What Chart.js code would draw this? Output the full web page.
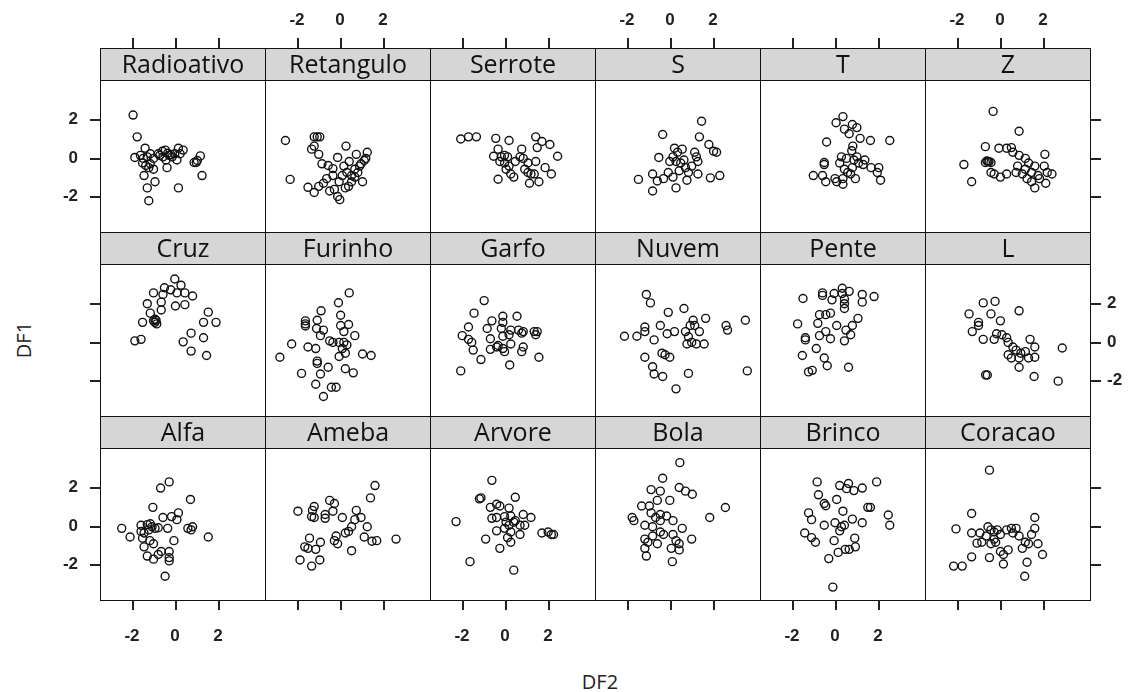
<!DOCTYPE html>
<html>
<head>
<meta charset="utf-8">
<script src="https://cdn.jsdelivr.net/npm/chart.js@4.4.1/dist/chart.umd.min.js"></script>
<style>
  html, body { margin: 0; padding: 0; background: #fff; }
  #fig { position: relative; width: 1142px; height: 692px; overflow: hidden; font-family: "Open Sans", "Noto Sans", sans-serif; }
  .panel { position: absolute; }
  .frame { position: absolute; border: 1px solid #111; box-sizing: border-box; pointer-events: none; }
  .strip { position: absolute; background: #d6d6d6; border: 1px solid #111; box-sizing: border-box;
           text-align: center; font-size: 25px; color: #111; line-height: 29px; white-space: nowrap; }
  .tick { position: absolute; background: #222; }
  .lab { position: absolute; font-family: "Liberation Sans", Arial, sans-serif; font-size: 17px; font-weight: bold; color: #222; line-height: 18px; }
  .title { position: absolute; font-size: 20px; color: #222; line-height: 24px; }
</style>
</head>
<body>
<div id="fig"></div>
<script>
// panel order: top row first, left to right
const panelNames = ['Radioativo', 'Retangulo', 'Serrote', 'S', 'T', 'Z',
                    'Cruz', 'Furinho', 'Garfo', 'Nuvem', 'Pente', 'L',
                    'Alfa', 'Ameba', 'Arvore', 'Bola', 'Brinco', 'Coracao'];
const tickValues = [-2, 0, 2];
const xRange = [-3.23, 3.95];
const yRange = [-3.57, 3.76];

// [DF2, DF1] pairs for each panel
const radioativo = [[-1.94,2.22],[-1.75,1.09],[-1.38,0.50],[-1.86,0.02],[-1.60,0.13],[-1.46,-0.03],[-1.28,0.05],[-1.50,-0.27],[-1.35,-0.40],[-1.14,-0.31],[-1.21,-0.51],[-0.99,-0.59],[-1.43,-0.92],[-0.92,-1.24],[-1.28,-1.56],[-1.21,-2.23],[-0.77,0.21],[-0.58,0.34],[-0.44,0.40],[-0.33,0.24],[-0.26,0.13],[-0.19,0.18],[-0.55,0.05],[-0.41,-0.11],[-0.36,-0.51],[0.00,0.21],[0.17,0.50],[0.39,0.40],[0.25,0.21],[0.10,-0.11],[0.17,-1.56],[1.19,0.10],[1.05,-0.14],[0.90,-0.24],[1.00,-0.24],[1.27,-0.92],[-0.99,-0.03],[-1.14,0.21],[-0.70,0.13],[-0.12,0.05]];
const retangulo = [[-2.53,0.90],[-2.31,-1.12],[-1.19,1.09],[-1.05,1.09],[-0.93,1.09],[-1.31,0.45],[-1.19,0.61],[-0.98,0.18],[-0.83,-0.31],[-0.54,-0.40],[-0.10,0.02],[-0.32,-0.56],[0.29,0.61],[0.77,0.18],[1.28,0.29],[0.44,-0.19],[0.19,-0.43],[0.70,-0.59],[0.99,-0.31],[1.14,-0.14],[1.06,-1.24],[0.55,-0.92],[0.33,-0.76],[0.12,-0.92],[-0.03,-1.24],[-0.32,-0.92],[-0.61,-1.08],[-0.76,-1.32],[-0.98,-1.48],[-1.48,-1.53],[-1.19,-1.80],[-0.47,-1.72],[-0.25,-1.64],[-0.10,-2.01],[0.00,-2.17],[0.26,-1.56],[0.55,-1.24],[0.70,-1.00],[0.84,-0.76],[0.41,-1.48],[1.21,-0.03],[0.92,-0.43]];
const serrote = [[-2.05,0.98],[-1.69,1.09],[-1.32,1.09],[-0.42,1.01],[0.20,0.90],[-0.52,0.08],[-0.31,0.45],[-0.16,0.05],[-0.01,0.13],[0.13,0.05],[-0.23,-0.19],[-0.01,-0.27],[0.20,-0.43],[0.06,-0.59],[0.28,-0.84],[0.42,-1.00],[-0.31,-1.11],[0.79,0.45],[0.71,0.05],[0.86,-0.03],[1.08,-0.27],[1.08,-0.76],[1.22,-0.84],[1.15,-1.32],[1.59,-1.24],[1.44,-0.19],[1.44,1.09],[1.51,0.53],[1.73,0.85],[2.10,0.69],[2.46,0.08],[1.88,-0.51],[2.17,-0.84],[1.37,-0.84],[0.49,-0.19],[0.93,-0.59]];
const sShape = [[1.48,1.90],[-0.33,1.21],[1.38,1.09],[1.82,0.69],[2.04,0.34],[2.18,0.29],[0.22,0.50],[0.36,0.29],[0.58,0.45],[0.15,0.05],[0.00,-0.19],[0.29,-0.19],[0.51,-0.27],[0.66,-0.11],[1.16,0.29],[1.24,0.05],[1.31,-0.19],[1.02,-0.43],[0.73,-0.51],[0.87,-0.76],[1.31,-0.84],[-0.51,0.02],[-0.80,-0.84],[-1.46,-1.12],[-0.58,-1.20],[-0.29,-1.08],[0.15,-1.00],[0.29,-1.56],[-0.80,-1.72],[0.80,-1.16],[1.89,-1.04],[2.33,-0.92],[-0.07,-0.76],[0.44,-0.67]];
const tShape = [[0.38,2.14],[0.06,1.82],[0.45,1.49],[0.82,1.73],[1.03,1.57],[0.67,1.25],[1.18,1.01],[1.66,0.90],[2.56,0.90],[-0.38,0.82],[0.84,0.61],[0.79,0.37],[0.31,0.05],[0.55,-0.03],[0.23,-0.27],[0.89,-0.11],[1.03,0.05],[1.11,-0.27],[1.40,-0.11],[1.32,-0.35],[0.82,-0.51],[0.60,-0.76],[0.38,-1.08],[0.01,-1.08],[-0.49,-0.24],[-0.49,-0.35],[-1.00,-0.92],[-0.57,-0.92],[-0.42,-1.24],[0.09,-1.24],[0.38,-1.37],[0.96,-1.08],[1.69,-0.51],[2.05,-0.51],[2.13,-1.16],[1.98,-0.76],[0.74,-0.84],[0.45,-0.59]];
const zShape = [[-0.31,2.41],[0.90,1.38],[-0.67,0.58],[-0.04,0.50],[0.32,0.50],[0.54,0.53],[0.61,0.29],[0.90,0.13],[1.19,-0.03],[1.34,-0.27],[1.63,-0.43],[2.10,0.18],[2.07,-0.43],[2.21,-0.76],[2.43,-0.84],[2.14,-1.32],[1.63,-1.56],[1.48,-1.24],[1.27,-1.08],[1.05,-0.84],[0.76,-0.76],[0.32,-0.84],[0.03,-1.00],[-0.26,-0.84],[-0.41,-0.76],[-0.55,-0.19],[-0.41,-0.24],[-0.67,-0.24],[-0.60,-0.16],[-0.50,-0.20],[-1.67,-0.35],[-1.31,-1.24],[1.78,-0.92],[1.19,-0.59],[0.83,-0.43],[1.48,-0.76],[1.85,-1.08]];
const cruz = [[0.00,3.26],[0.29,2.94],[-0.48,2.81],[-0.19,2.70],[0.10,2.54],[0.47,2.54],[0.83,2.38],[-0.99,2.54],[-0.55,2.46],[-1.28,1.98],[-0.63,2.06],[0.03,1.86],[0.47,1.93],[-1.14,1.49],[-0.63,1.65],[-1.50,1.01],[-0.92,1.17],[-0.92,1.01],[-0.84,0.93],[-0.99,1.09],[-0.87,1.12],[1.56,1.54],[1.34,1.01],[1.92,1.01],[-1.86,0.05],[-1.57,0.13],[0.76,0.45],[0.39,0.00],[1.34,0.21],[0.76,-0.48],[1.48,-0.71]];
const furinho = [[0.44,2.54],[-0.06,2.03],[-0.87,1.61],[0.04,1.38],[-1.05,1.12],[-1.60,1.09],[-1.60,0.93],[-1.60,0.82],[-1.08,0.69],[-0.76,0.61],[-0.90,0.32],[-0.47,0.05],[-0.32,-0.03],[-0.03,-0.03],[0.19,-0.03],[0.33,-0.16],[0.12,-0.35],[0.26,-0.59],[-0.03,-0.76],[0.41,0.90],[0.04,0.85],[0.70,0.32],[-2.24,-0.11],[-2.79,-0.80],[-1.48,-0.27],[-1.12,-0.35],[-1.05,-1.00],[-1.05,-1.12],[-0.54,-1.32],[-0.90,-1.67],[-1.78,-1.64],[-1.12,-2.20],[-0.39,-2.36],[-0.17,-2.36],[-0.76,-2.84],[0.26,-1.40],[0.63,-1.61],[1.06,-0.63],[1.46,-0.71],[0.19,0.53]];
const garfo = [[-0.96,2.14],[-1.43,1.49],[-0.60,1.09],[-0.09,1.33],[0.57,1.33],[-0.09,1.01],[-1.69,0.77],[-0.82,0.69],[-0.16,0.69],[0.28,0.61],[0.64,0.61],[0.86,0.53],[-1.98,0.32],[-1.69,0.13],[-1.54,-0.03],[-0.67,0.16],[-0.09,0.29],[0.20,0.37],[0.79,0.45],[1.37,0.53],[1.51,0.53],[1.44,0.37],[-1.47,-0.43],[-1.11,-0.92],[-0.67,-0.39],[-0.31,-0.19],[-0.09,-0.35],[-0.01,-0.51],[-0.38,-0.27],[0.28,-0.11],[0.86,-0.27],[0.79,-0.51],[1.59,-0.80],[0.23,-1.20],[-2.05,-1.51]];
const nuvem = [[-1.09,2.46],[-0.90,2.02],[-0.07,1.53],[0.66,1.73],[1.67,1.22],[1.09,1.12],[0.95,0.85],[-1.16,0.77],[-0.44,0.85],[-2.11,0.29],[-1.53,0.29],[-1.16,0.53],[-0.73,0.10],[-0.12,0.42],[0.22,0.53],[0.73,0.53],[1.38,0.53],[1.02,-0.03],[0.80,-0.11],[1.24,-0.11],[1.60,-0.11],[2.62,0.85],[2.69,0.61],[3.52,1.12],[-0.36,-0.59],[-0.22,-0.67],[0.00,-0.80],[-1.16,-0.80],[-0.80,-1.29],[-0.73,-1.67],[-0.33,-1.80],[0.87,-1.64],[0.29,-2.44],[3.61,-1.51],[0.87,0.26],[1.16,0.85]];
const pente = [[-1.48,2.25],[-0.57,2.54],[-0.57,2.41],[-0.03,2.51],[0.35,2.78],[0.35,2.51],[0.67,2.62],[0.45,2.22],[0.45,1.98],[0.45,1.73],[-0.13,2.18],[1.28,2.46],[1.28,2.06],[1.83,2.35],[-0.20,1.49],[-0.42,1.41],[-0.71,1.41],[-0.79,0.96],[-1.73,0.93],[0.09,0.85],[0.52,0.61],[0.82,0.85],[1.08,1.22],[-0.42,0.53],[-0.71,0.32],[-1.37,0.21],[-1.37,0.10],[-0.20,0.16],[0.45,0.05],[0.74,0.37],[-0.86,-0.35],[-1.51,-0.71],[-0.49,-0.84],[-0.35,-1.24],[-1.22,-1.56],[-1.05,-1.48],[0.64,-1.32]];
const lShape = [[-0.77,2.02],[-0.22,2.10],[0.90,1.61],[-1.43,1.45],[-0.41,1.45],[-0.99,1.01],[0.03,1.09],[-1.28,0.53],[-0.77,0.13],[-0.15,0.42],[0.10,0.37],[0.32,0.21],[0.39,-0.03],[0.61,-0.27],[0.76,-0.43],[0.98,-0.59],[1.19,-0.51],[1.34,-0.84],[0.90,-0.84],[0.54,-0.84],[0.39,-0.67],[1.41,0.13],[1.63,-0.27],[1.63,-0.80],[0.90,-1.32],[2.91,-0.32],[1.60,-1.80],[2.72,-2.04],[-0.66,-1.72],[-0.58,-1.72],[-0.99,0.85],[-0.26,0.13]];
const alfa = [[-0.26,2.28],[-0.66,1.96],[0.73,1.37],[-1.02,0.96],[0.17,0.67],[-0.15,0.48],[-0.55,0.43],[0.10,0.32],[-2.47,-0.13],[-2.08,-0.58],[-1.57,0.03],[-1.28,0.06],[-1.14,0.11],[-1.06,-0.05],[-0.92,-0.13],[-1.21,-0.21],[-1.43,-0.37],[-1.50,-0.64],[-1.16,-0.77],[-0.77,-0.10],[-0.33,-0.13],[0.61,-0.13],[0.83,-0.05],[0.76,-0.21],[1.56,-0.58],[-0.04,-0.77],[-0.99,-0.93],[-1.43,-1.09],[-1.28,-1.57],[-0.99,-1.73],[-0.63,-1.33],[-0.26,-1.33],[-0.26,-1.65],[-0.26,-1.82],[-0.77,-1.49],[-0.45,-2.62],[-1.57,-0.29]];
const ameba = [[1.64,2.09],[1.43,1.45],[-1.95,0.76],[-1.19,1.00],[-1.27,0.80],[-1.31,0.48],[-1.19,0.43],[-0.47,1.32],[-0.25,1.16],[-0.68,0.59],[-0.68,0.39],[-0.32,0.76],[0.12,0.43],[0.77,0.80],[0.70,0.32],[0.99,0.43],[0.55,-0.05],[0.41,-0.29],[0.26,-0.37],[1.28,-0.05],[1.14,-0.58],[1.50,-0.80],[1.72,-0.77],[2.62,-0.69],[-0.17,-0.53],[-0.10,-0.93],[0.55,-1.29],[-1.41,-0.64],[-1.63,-1.09],[-1.48,-1.17],[-1.12,-1.22],[-0.90,-0.85],[-1.85,-1.77],[-1.31,-2.09],[-0.93,-1.77],[-0.25,-0.77]];
const arvore = [[-0.60,2.36],[-1.18,1.40],[-1.11,1.45],[0.49,1.48],[-0.38,1.12],[-0.23,1.03],[0.20,0.92],[-0.67,0.96],[-2.27,0.22],[-0.60,0.39],[-0.38,0.43],[-0.01,0.48],[0.28,0.51],[0.06,0.19],[0.20,0.03],[0.42,0.19],[0.86,0.59],[1.22,0.43],[0.71,0.03],[0.93,0.03],[-0.38,-0.26],[0.28,-0.32],[0.71,-0.45],[0.13,-0.61],[0.28,-0.85],[-0.23,-1.17],[-0.89,-0.69],[1.73,-0.37],[2.02,-0.32],[2.17,-0.45],[2.27,-0.45],[0.42,-2.30],[-1.62,-1.86],[0.49,0.27],[-0.01,-0.13]];
const bola = [[0.47,3.28],[-0.33,2.47],[0.44,1.99],[0.73,1.80],[1.05,1.64],[-0.87,1.88],[-0.44,1.80],[0.00,1.32],[-1.31,1.03],[-0.95,1.03],[-0.58,1.32],[-0.87,0.67],[-0.44,0.59],[-0.66,0.43],[-0.44,0.27],[-0.15,0.51],[0.15,0.27],[-1.75,0.43],[-1.67,0.27],[-1.16,0.03],[-0.80,-0.05],[-0.44,-0.32],[-0.29,-0.45],[0.58,-0.13],[0.15,-0.45],[0.29,-0.77],[0.07,-1.17],[0.44,-1.25],[1.02,-0.69],[-0.58,-0.93],[-1.02,-0.85],[-1.16,-0.69],[-1.16,-1.17],[-1.09,-1.57],[0.12,-1.86],[1.86,0.43],[2.59,0.95],[0.44,-0.93],[-0.80,-0.53]];
const brinco = [[-0.82,2.28],[0.23,2.09],[0.64,2.20],[0.55,1.93],[0.89,1.83],[1.28,1.96],[1.95,2.28],[-0.76,1.61],[0.09,1.37],[-0.49,1.16],[-0.42,1.04],[1.54,0.96],[1.66,0.96],[0.38,0.76],[-1.22,0.67],[-1.08,0.32],[-0.49,0.03],[0.01,0.16],[0.31,-0.05],[0.45,0.03],[0.82,0.35],[1.28,0.16],[2.49,0.56],[2.56,0.03],[-1.40,-0.37],[-1.08,-0.61],[-0.90,-0.85],[-0.03,-0.77],[0.93,-0.64],[0.96,-1.09],[0.67,-1.22],[0.49,-1.22],[0.16,-1.38],[-0.28,-1.70],[-0.09,-3.18],[0.23,-0.26]];
const coracao = [[-0.48,2.89],[-1.31,0.64],[-2.04,-0.16],[-1.31,-0.37],[-0.92,-0.37],[-0.55,-0.05],[-0.41,-0.21],[-0.26,-0.32],[-0.12,-0.21],[0.03,-0.45],[-0.26,-0.69],[-0.41,-0.93],[-0.84,-0.85],[-1.06,-0.90],[0.32,-0.21],[0.54,-0.13],[0.76,-0.13],[0.61,-0.37],[0.90,-0.53],[1.19,-0.85],[1.34,-0.93],[1.63,0.43],[1.63,-0.13],[1.78,-0.93],[1.99,-1.49],[1.27,-1.89],[1.16,-2.62],[-2.15,-2.09],[-1.75,-2.09],[-1.31,-1.61],[-0.48,-1.65],[0.17,-1.49],[0.17,-1.98],[0.03,-1.33],[0.39,-1.25],[1.05,-1.17],[1.48,-0.45],[-0.63,-0.53],[-0.19,-0.85]];

const panelData = [radioativo, retangulo, serrote, sShape, tShape, zShape,
                   cruz, furinho, garfo, nuvem, pente, lShape,
                   alfa, ameba, arvore, bola, brinco, coracao];

// layout (pixels)
const colLeft = [100, 265, 430, 595, 760, 925];
const panelW = 165;
const stripTop = [48, 232, 416];
const stripH = 32;
const panelH = 152;
const tickLen = 10;

const fig = document.getElementById('fig');

function addDiv(cls, left, top, width, height, text) {
  const d = document.createElement('div');
  d.className = cls;
  d.style.left = left + 'px';
  d.style.top = top + 'px';
  if (width != null) d.style.width = width + 'px';
  if (height != null) d.style.height = height + 'px';
  if (text != null) d.textContent = text;
  fig.appendChild(d);
  return d;
}

panelNames.forEach((name, i) => {
  const row = Math.floor(i / 6);
  const col = i % 6;
  const left = colLeft[col];
  const top = stripTop[row] + stripH;

  const wrap = addDiv('panel', left, top, panelW, panelH);
  const canvas = document.createElement('canvas');
  canvas.width = panelW;
  canvas.height = panelH;
  wrap.appendChild(canvas);

  const chart = new Chart(canvas, {
    type: 'scatter',
    data: {
      datasets: [{
        data: panelData[i].map(p => ({ x: p[0], y: p[1] })),
        pointStyle: 'circle',
        pointRadius: 4,
        pointHoverRadius: 4,
        pointBorderWidth: 1.4,
        pointBorderColor: '#111',
        pointBackgroundColor: 'rgba(0,0,0,0)'
      }]
    },
    options: {
      responsive: false,
      animation: false,
      events: [],
      layout: { padding: 0 },
      plugins: { legend: { display: false }, tooltip: { enabled: false } },
      scales: {
        x: { type: 'linear', min: xRange[0], max: xRange[1], display: false },
        y: { type: 'linear', min: yRange[0], max: yRange[1], display: false }
      }
    }
  });

  addDiv('frame', left, top, panelW + 1, panelH + 1);
  addDiv('strip', left, stripTop[row], panelW + 1, stripH + 1, name);

  // outer ticks, lattice style: labels alternate between sides
  const xs = chart.scales.x;
  const ys = chart.scales.y;
  tickValues.forEach(v => {
    const px = Math.round(left + xs.getPixelForValue(v));
    const py = Math.round(top + ys.getPixelForValue(v));
    if (row === 0) {
      addDiv('tick', px, stripTop[0] - tickLen, 1.5, tickLen);
      if (col % 2 === 1) {
        const l = addDiv('lab', px - 20, 11, 40, null, String(v));
        l.style.textAlign = 'center';
      }
    }
    if (row === 2) {
      addDiv('tick', px, top + panelH, 1.5, tickLen);
      if (col % 2 === 0) {
        const l = addDiv('lab', px - 20, 627, 40, null, String(v));
        l.style.textAlign = 'center';
      }
    }
    if (col === 0) {
      addDiv('tick', left - tickLen, py, tickLen, 1.5);
      if (row !== 1) {
        const l = addDiv('lab', 38, py - 9, 40, null, String(v));
        l.style.textAlign = 'right';
      }
    }
    if (col === 5) {
      addDiv('tick', left + panelW + 1, py, tickLen, 1.5);
      if (row === 1) {
        addDiv('lab', left + panelW + 17, py - 9, 40, null, String(v));
      }
    }
  });
});

const xTitle = addDiv('title', 560, 670, 80, null, 'DF2');
xTitle.style.textAlign = 'center';
const yTitle = addDiv('title', -16, 328, 80, null, 'DF1');
yTitle.style.textAlign = 'center';
yTitle.style.transform = 'rotate(-90deg)';
</script>
</body>
</html>
